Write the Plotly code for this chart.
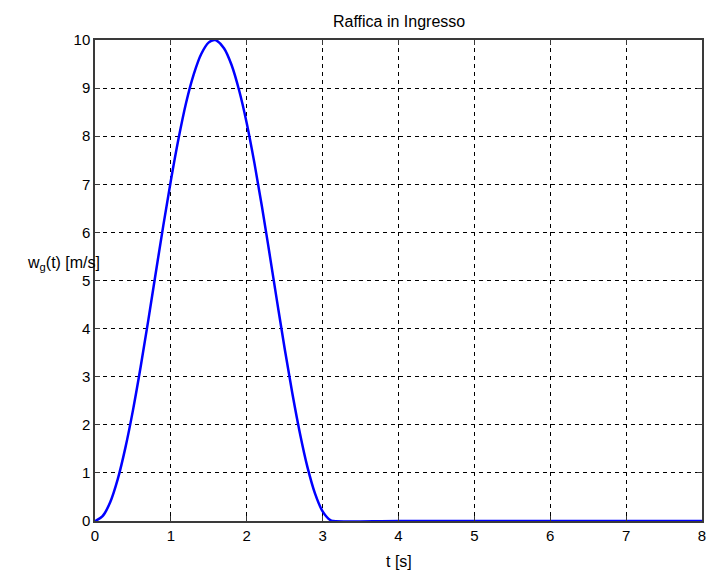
import plotly.graph_objects as go

t_vals = [0.0, 0.1, 0.2, 0.3, 0.4, 0.5, 0.6, 0.7, 0.8, 0.9, 1.0, 1.1, 1.2, 1.3, 1.4, 1.5,
          1.57, 1.6, 1.7, 1.8, 1.9, 2.0, 2.1, 2.2, 2.3, 2.4, 2.5, 2.6, 2.7, 2.8, 2.9, 3.0,
          3.1, 3.14, 4.0, 5.0, 6.0, 7.0, 8.0]
wg_vals = [0.0, 0.10, 0.39, 0.87, 1.52, 2.30, 3.19, 4.15, 5.15, 6.14, 7.08, 7.94, 8.69,
           9.28, 9.71, 9.95, 10.0, 9.99, 9.83, 9.48, 8.95, 8.27, 7.45, 6.54, 5.56, 4.56,
           3.58, 2.66, 1.83, 1.12, 0.57, 0.20, 0.02, 0.0, 0.0, 0.0, 0.0, 0.0, 0.0]

x_ticks = [0, 1, 2, 3, 4, 5, 6, 7, 8]
y_ticks = [0, 1, 2, 3, 4, 5, 6, 7, 8, 9, 10]

title_text = "Raffica in Ingresso"
x_label = "t [s]"
y_label = "w<sub>g</sub>(t) [m/s]"

FONT = "Liberation Sans, Arial"

fig = go.Figure()
fig.add_trace(go.Scatter(x=t_vals, y=wg_vals, mode="lines",
                         line=dict(color="#0000ff", width=2.5, shape="spline"),
                         showlegend=False))

axis_common = dict(showline=True, linecolor="#3a3a3a", linewidth=1.5, mirror="ticks",
                   ticks="inside", ticklen=5, tickcolor="#3a3a3a",
                   showgrid=True, gridcolor="#000000", griddash="4px,4px", gridwidth=1,
                   zeroline=False, automargin=False,
                   tickfont=dict(family=FONT, size=15, color="#000000"))

fig.update_xaxes(range=[0, 8], tickvals=x_ticks, **axis_common)
fig.update_yaxes(range=[0, 10], tickvals=y_ticks, **axis_common)

fig.add_annotation(text=title_text, xref="paper", yref="paper", x=0.5, y=1.0,
                   yshift=8, yanchor="bottom", showarrow=False,
                   font=dict(family=FONT, size=16, color="#000000"))
fig.add_annotation(text=x_label, xref="paper", yref="paper", x=0.5, y=0,
                   yshift=-30, yanchor="top", showarrow=False,
                   font=dict(family=FONT, size=16, color="#000000"))
fig.add_annotation(text=y_label, xref="paper", yref="paper", x=0, y=0.535,
                   xshift=-32, xanchor="center", yanchor="middle", showarrow=False,
                   font=dict(family=FONT, size=16, color="#000000"))

fig.update_layout(width=709, height=576,
                  margin=dict(l=95, r=7, t=40, b=55),
                  paper_bgcolor="#ffffff", plot_bgcolor="#ffffff",
                  font=dict(family=FONT, size=15, color="#000000"))

fig.write_html("out.html")
